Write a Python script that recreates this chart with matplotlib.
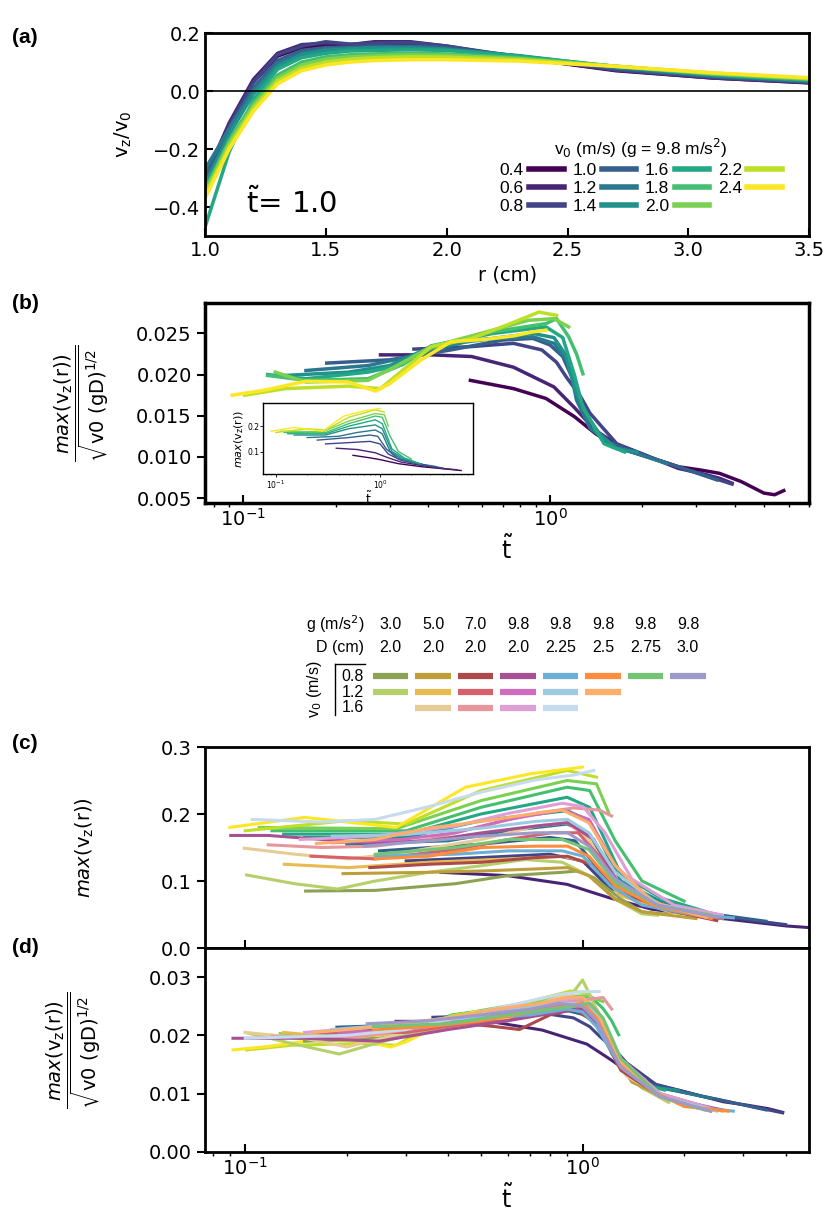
import numpy as np
import matplotlib
matplotlib.use('Agg')
import matplotlib.pyplot as plt
from matplotlib.lines import Line2D
from matplotlib.ticker import FormatStrFormatter

plt.rcParams['font.family'] = ['DejaVu Sans']

# ---------------- DATA ----------------
# (a) v_z/v_0 vs r at t~ = 1.0, one curve per v0 (g = 9.8)
v0_a = [0.4, 0.6, 0.8, 1.0, 1.2, 1.4, 1.6, 1.8, 2.0, 2.2, 2.4]
r_cm = [1.0, 1.1, 1.2, 1.3, 1.4, 1.5, 1.6, 1.7, 1.85, 2.0, 2.3, 2.7, 3.1, 3.5]
vz_a = [
    [-0.29, -0.12, 0.03, 0.120, 0.150, 0.155, 0.150, 0.160, 0.165, 0.150, 0.115, 0.070, 0.045, 0.028],
    [-0.30, -0.11, 0.04, 0.130, 0.160, 0.165, 0.160, 0.170, 0.170, 0.155, 0.115, 0.072, 0.045, 0.029],
    [-0.31, -0.12, 0.03, 0.125, 0.155, 0.170, 0.162, 0.165, 0.168, 0.155, 0.118, 0.073, 0.047, 0.030],
    [-0.29, -0.13, 0.01, 0.105, 0.140, 0.150, 0.150, 0.155, 0.155, 0.150, 0.120, 0.078, 0.050, 0.032],
    [-0.27, -0.13, 0.00, 0.095, 0.130, 0.145, 0.148, 0.150, 0.152, 0.145, 0.120, 0.080, 0.052, 0.034],
    [-0.32, -0.15, -0.01, 0.085, 0.125, 0.140, 0.145, 0.148, 0.148, 0.143, 0.122, 0.083, 0.054, 0.036],
    [-0.47, -0.21, -0.03, 0.075, 0.115, 0.130, 0.138, 0.140, 0.142, 0.140, 0.120, 0.085, 0.056, 0.038],
    [-0.34, -0.17, -0.04, 0.055, 0.100, 0.118, 0.125, 0.128, 0.130, 0.128, 0.115, 0.085, 0.058, 0.040],
    [-0.35, -0.18, -0.05, 0.045, 0.090, 0.110, 0.118, 0.122, 0.125, 0.123, 0.112, 0.085, 0.060, 0.042],
    [-0.36, -0.19, -0.06, 0.035, 0.080, 0.100, 0.110, 0.115, 0.118, 0.117, 0.108, 0.086, 0.062, 0.044],
    [-0.37, -0.20, -0.07, 0.025, 0.070, 0.090, 0.100, 0.105, 0.108, 0.108, 0.103, 0.085, 0.063, 0.046],
]

# (b) normalised max(v_z) vs t~
b_t = [
    [0.55, 0.76, 0.97, 1.2, 1.41, 1.65, 1.92, 2.3, 2.62, 3.1, 3.57, 4.2, 4.98, 5.4, 5.78],
    [0.28, 0.41, 0.555, 0.76, 1.03, 1.2, 1.41, 1.65, 1.92, 2.62, 3.1, 3.57, 3.92],
    [0.36, 0.55, 0.76, 0.94, 1.05, 1.13, 1.25, 1.35, 1.65, 2.25, 3.05, 3.92],
    [0.187, 0.30, 0.475, 0.70, 0.88, 1.0, 1.1, 1.2, 1.28, 1.5, 1.92, 2.62, 3.5],
    [0.16, 0.255, 0.35, 0.555, 0.88, 1.03, 1.15, 1.22, 1.35, 1.6, 1.92, 2.4],
    [0.137, 0.22, 0.30, 0.41, 0.65, 0.88, 1.03, 1.12, 1.22, 1.41, 1.65, 1.92],
    [0.12, 0.16, 0.255, 0.33, 0.41, 0.65, 0.97, 1.1, 1.2, 1.28, 1.5, 1.75],
    [0.12, 0.16, 0.255, 0.32, 0.41, 0.65, 0.97, 1.05, 1.15, 1.22, 1.28],
    [0.127, 0.16, 0.255, 0.31, 0.41, 0.65, 0.85, 1.03, 1.15],
    [0.101, 0.137, 0.22, 0.28, 0.33, 0.41, 0.555, 0.72, 0.92, 1.05],
    [0.092, 0.117, 0.16, 0.22, 0.27, 0.30, 0.38, 0.475, 0.62, 0.76, 0.88, 0.97],
]
b_y = [
    [0.0193, 0.0183, 0.0171, 0.0149, 0.0128, 0.0112, 0.0104, 0.0095, 0.0088, 0.0084, 0.0080, 0.0070, 0.0056, 0.0054, 0.0059],
    [0.0224, 0.0224, 0.0222, 0.0209, 0.0185, 0.0160, 0.0132, 0.0115, 0.0106, 0.0086, 0.0080, 0.0074, 0.0068],
    [0.0231, 0.0234, 0.0238, 0.0230, 0.0215, 0.0197, 0.0175, 0.0153, 0.0116, 0.0096, 0.0080, 0.0067],
    [0.0214, 0.0218, 0.0230, 0.0242, 0.0244, 0.0236, 0.0222, 0.0190, 0.0157, 0.0120, 0.0104, 0.0088, 0.0072],
    [0.0205, 0.0211, 0.0222, 0.0242, 0.0246, 0.0238, 0.0215, 0.0169, 0.0135, 0.0112, 0.0104, 0.0092],
    [0.0199, 0.0203, 0.0211, 0.0234, 0.0244, 0.0250, 0.0245, 0.0225, 0.0177, 0.0132, 0.0110, 0.0106],
    [0.0200, 0.0195, 0.0203, 0.0212, 0.0235, 0.0250, 0.0258, 0.0245, 0.0200, 0.0160, 0.0116, 0.0106],
    [0.0199, 0.0193, 0.0195, 0.0210, 0.0232, 0.0252, 0.0262, 0.0268, 0.0246, 0.0225, 0.0201],
    [0.0203, 0.0191, 0.0193, 0.0209, 0.0234, 0.0254, 0.0266, 0.0268, 0.0258],
    [0.0175, 0.0183, 0.0186, 0.0183, 0.0205, 0.0234, 0.0244, 0.0260, 0.0276, 0.0272],
    [0.0175, 0.0181, 0.0192, 0.0191, 0.0180, 0.0189, 0.0218, 0.0240, 0.0243, 0.0247, 0.0252, 0.0254],
]

# inset of (b): max(v_z(r)) vs t~
in_t = [
    [0.55, 0.8, 1.0, 1.5, 2.5, 4.0, 6.0],
    [0.38, 0.6, 0.9, 1.2, 1.6, 2.5, 4.0, 5.5],
    [0.3, 0.5, 0.8, 1.0, 1.2, 1.6, 2.5, 4.0],
    [0.25, 0.5, 0.8, 0.95, 1.15, 1.5, 2.5, 3.5],
    [0.2, 0.4, 0.6, 0.9, 1.05, 1.25, 1.6, 2.5],
    [0.15, 0.3, 0.5, 0.9, 1.05, 1.3, 1.7, 2.5],
    [0.13, 0.3, 0.5, 0.9, 1.05, 1.3, 1.7, 2.3],
    [0.12, 0.3, 0.5, 0.9, 1.05, 1.25, 1.5, 2.0],
    [0.11, 0.28, 0.5, 0.9, 1.1, 1.2],
    [0.1, 0.2, 0.3, 0.5, 0.9, 1.1],
    [0.09, 0.15, 0.28, 0.45, 0.7, 1.0],
]
in_y = [
    [0.085, 0.075, 0.068, 0.052, 0.040, 0.032, 0.025],
    [0.113, 0.108, 0.095, 0.075, 0.058, 0.045, 0.033, 0.028],
    [0.130, 0.135, 0.140, 0.130, 0.090, 0.065, 0.048, 0.035],
    [0.145, 0.155, 0.165, 0.160, 0.110, 0.070, 0.050, 0.040],
    [0.155, 0.160, 0.175, 0.185, 0.170, 0.100, 0.070, 0.050],
    [0.165, 0.165, 0.190, 0.205, 0.190, 0.100, 0.070, 0.050],
    [0.170, 0.170, 0.200, 0.225, 0.210, 0.110, 0.075, 0.055],
    [0.175, 0.175, 0.210, 0.240, 0.235, 0.160, 0.100, 0.070],
    [0.180, 0.178, 0.220, 0.250, 0.245, 0.200],
    [0.175, 0.190, 0.185, 0.235, 0.265, 0.255],
    [0.180, 0.195, 0.180, 0.240, 0.260, 0.270],
]

# table legend for (c)/(d)
tab_g = [3.0, 5.0, 7.0, 9.8, 9.8, 9.8, 9.8, 9.8]
tab_D = [2.0, 2.0, 2.0, 2.0, 2.25, 2.5, 2.75, 3.0]
tab_v0 = [0.8, 1.2, 1.6]
tab_colors = [
    ['#8ca252', '#b5cf6b', None],
    ['#bd9e39', '#e7ba52', '#e7cb94'],
    ['#ad494a', '#d6616b', '#e7969c'],
    ['#a55194', '#ce6dbd', '#de9ed6'],
    ['#6baed6', '#9ecae1', '#c6dbef'],
    ['#fd8d3c', '#fdae6b', None],
    ['#74c476', None, None],
    ['#9e9ac8', None, None],
]

# (c) max(v_z(r)) vs t~, one curve per table entry (column by column)
c_t = [
    [0.151, 0.243, 0.42, 0.60, 0.87, 0.97, 1.08, 1.30, 1.50, 1.81],
    [0.101, 0.140, 0.188, 0.243, 0.35, 0.504, 0.675, 0.871, 1.044, 1.25, 1.50, 1.67],
    [0.195, 0.35, 0.504, 0.726, 0.903, 1.044, 1.25, 1.50, 2.17],
    [0.1305, 0.202, 0.35, 0.604, 0.871, 1.044, 1.30, 1.81, 2.60],
    [0.0993, 0.140, 0.202, 0.291, 0.504, 0.726, 0.903, 1.044, 1.25, 1.81, 2.60],
    [0.234, 0.35, 0.504, 0.726, 0.903, 1.08, 1.30, 1.81, 2.50],
    [0.1567, 0.243, 0.42, 0.604, 0.809, 0.971, 1.12, 1.35, 1.81, 2.60],
    [0.117, 0.169, 0.243, 0.35, 0.504, 0.726, 0.94, 1.12, 1.22],
    [0.0906, 0.117, 0.169, 0.243, 0.35, 0.504, 0.726, 0.903, 1.08, 1.30, 1.81, 2.60],
    [0.1813, 0.291, 0.42, 0.604, 0.871, 1.044, 1.25, 1.62, 2.33],
    [0.1456, 0.243, 0.42, 0.604, 0.871, 1.003, 1.166, 1.40, 1.87, 2.60],
    [0.243, 0.42, 0.604, 0.871, 1.003, 1.21, 1.50, 2.17, 2.80],
    [0.1813, 0.291, 0.504, 0.726, 0.903, 1.044, 1.25, 1.67, 2.41],
    [0.1048, 0.169, 0.243, 0.35, 0.504, 0.726, 0.94, 1.08],
    [0.243, 0.35, 0.504, 0.726, 0.903, 1.044, 1.25, 1.62, 2.41],
    [0.1625, 0.243, 0.35, 0.504, 0.726, 0.871, 1.044, 1.25, 1.62, 2.33],
    [0.243, 0.42, 0.604, 0.871, 1.044, 1.25, 1.67, 2.41],
    [0.2256, 0.35, 0.504, 0.726, 0.903, 1.044, 1.25, 1.67, 2.50],
]
c_y = [
    [0.085, 0.086, 0.096, 0.108, 0.113, 0.115, 0.105, 0.073, 0.054, 0.050],
    [0.109, 0.096, 0.088, 0.100, 0.113, 0.123, 0.132, 0.128, 0.108, 0.073, 0.051, 0.049],
    [0.111, 0.113, 0.115, 0.118, 0.120, 0.108, 0.073, 0.054, 0.044],
    [0.125, 0.120, 0.128, 0.133, 0.137, 0.128, 0.078, 0.054, 0.044],
    [0.149, 0.140, 0.133, 0.142, 0.162, 0.182, 0.187, 0.162, 0.098, 0.059, 0.046],
    [0.120, 0.125, 0.128, 0.135, 0.137, 0.123, 0.083, 0.056, 0.041],
    [0.137, 0.133, 0.147, 0.162, 0.172, 0.172, 0.137, 0.083, 0.059, 0.044],
    [0.154, 0.150, 0.152, 0.162, 0.182, 0.201, 0.209, 0.206, 0.197],
    [0.168, 0.168, 0.162, 0.157, 0.160, 0.172, 0.182, 0.187, 0.162, 0.089, 0.056, 0.046],
    [0.157, 0.162, 0.172, 0.192, 0.206, 0.192, 0.123, 0.068, 0.048],
    [0.162, 0.167, 0.182, 0.201, 0.216, 0.211, 0.172, 0.103, 0.064, 0.049],
    [0.137, 0.140, 0.145, 0.145, 0.137, 0.093, 0.064, 0.049, 0.045],
    [0.167, 0.169, 0.179, 0.189, 0.192, 0.172, 0.113, 0.066, 0.048],
    [0.192, 0.188, 0.192, 0.211, 0.233, 0.251, 0.258, 0.265],
    [0.133, 0.137, 0.150, 0.152, 0.152, 0.137, 0.093, 0.064, 0.044],
    [0.156, 0.162, 0.179, 0.189, 0.201, 0.206, 0.187, 0.123, 0.068, 0.046],
    [0.140, 0.150, 0.162, 0.162, 0.147, 0.098, 0.064, 0.049],
    [0.152, 0.160, 0.167, 0.172, 0.172, 0.152, 0.103, 0.064, 0.046],
]

# (d) normalised max(v_z) vs t~, same order as (c)
d_t = [
    [0.15, 0.25, 0.4, 0.6, 0.85, 1.0, 1.1, 1.3, 1.5, 1.8],
    [0.1, 0.14, 0.19, 0.24, 0.35, 0.5, 0.7, 0.9, 1.0, 1.05, 1.15, 1.3, 1.5, 1.8],
    [0.2, 0.35, 0.5, 0.7, 0.9, 1.05, 1.2, 1.4, 1.8, 2.2],
    [0.13, 0.2, 0.35, 0.55, 0.8, 0.95, 1.1, 1.3, 1.7, 2.6],
    [0.1, 0.15, 0.2, 0.3, 0.5, 0.75, 0.9, 1.0, 1.15, 1.35, 1.8, 2.6],
    [0.24, 0.35, 0.45, 0.55, 0.65, 0.8, 0.95, 1.1, 1.3, 1.7, 2.4],
    [0.16, 0.3, 0.45, 0.6, 0.8, 0.95, 1.1, 1.3, 1.7, 2.5],
    [0.12, 0.2, 0.35, 0.55, 0.8, 1.0, 1.15, 1.22],
    [0.092, 0.15, 0.25, 0.4, 0.6, 0.85, 1.0, 1.1, 1.3, 1.7, 2.6],
    [0.19, 0.3, 0.45, 0.65, 0.85, 1.0, 1.1, 1.3, 1.7, 2.4],
    [0.15, 0.25, 0.4, 0.6, 0.85, 1.0, 1.1, 1.3, 1.7, 2.5],
    [0.24, 0.35, 0.5, 0.7, 0.9, 1.0, 1.1, 1.3, 1.7, 2.3, 2.8],
    [0.18, 0.3, 0.45, 0.65, 0.85, 1.0, 1.1, 1.3, 1.7, 2.5],
    [0.1, 0.2, 0.3, 0.45, 0.65, 0.85, 1.0, 1.12],
    [0.24, 0.35, 0.5, 0.7, 0.9, 1.0, 1.1, 1.3, 1.6, 2.0, 2.7],
    [0.16, 0.25, 0.4, 0.55, 0.75, 0.9, 1.0, 1.1, 1.3, 1.7, 2.4],
    [0.24, 0.4, 0.6, 0.8, 0.95, 1.05, 1.15, 1.3, 1.7, 2.3],
    [0.23, 0.35, 0.5, 0.7, 0.85, 1.0, 1.1, 1.3, 1.7, 2.4],
]
d_y = [
    [0.0190, 0.0195, 0.0215, 0.0235, 0.0250, 0.0255, 0.0230, 0.0150, 0.0110, 0.0090],
    [0.0205, 0.0185, 0.0168, 0.0185, 0.0210, 0.0225, 0.0250, 0.0260, 0.0295, 0.0270, 0.0220, 0.0150, 0.0110, 0.0085],
    [0.0205, 0.0210, 0.0225, 0.0235, 0.0250, 0.0245, 0.0180, 0.0120, 0.0090, 0.0075],
    [0.0205, 0.0195, 0.0210, 0.0225, 0.0240, 0.0255, 0.0220, 0.0140, 0.0095, 0.0070],
    [0.0205, 0.0195, 0.0180, 0.0205, 0.0235, 0.0255, 0.0270, 0.0260, 0.0200, 0.0130, 0.0090, 0.0070],
    [0.0215, 0.0215, 0.0220, 0.0215, 0.0210, 0.0235, 0.0245, 0.0220, 0.0140, 0.0095, 0.0070],
    [0.0205, 0.0205, 0.0220, 0.0225, 0.0245, 0.0250, 0.0230, 0.0150, 0.0100, 0.0072],
    [0.0198, 0.0195, 0.0215, 0.0235, 0.0255, 0.0260, 0.0265, 0.0245],
    [0.0195, 0.0195, 0.0190, 0.0210, 0.0225, 0.0240, 0.0245, 0.0220, 0.0145, 0.0095, 0.0072],
    [0.0205, 0.0210, 0.0225, 0.0240, 0.0250, 0.0255, 0.0235, 0.0150, 0.0095, 0.0072],
    [0.0205, 0.0215, 0.0230, 0.0245, 0.0260, 0.0265, 0.0240, 0.0160, 0.0100, 0.0072],
    [0.0215, 0.0225, 0.0230, 0.0235, 0.0245, 0.0240, 0.0215, 0.0145, 0.0095, 0.0075, 0.0070],
    [0.0210, 0.0220, 0.0230, 0.0245, 0.0255, 0.0255, 0.0235, 0.0150, 0.0095, 0.0070],
    [0.0195, 0.0200, 0.0210, 0.0235, 0.0255, 0.0270, 0.0275, 0.0275],
    [0.0210, 0.0215, 0.0225, 0.0240, 0.0250, 0.0255, 0.0230, 0.0150, 0.0105, 0.0078, 0.0070],
    [0.0205, 0.0215, 0.0230, 0.0245, 0.0255, 0.0265, 0.0265, 0.0245, 0.0155, 0.0095, 0.0070],
    [0.0215, 0.0220, 0.0235, 0.0245, 0.0250, 0.0255, 0.0230, 0.0160, 0.0095, 0.0072],
    [0.0220, 0.0225, 0.0235, 0.0245, 0.0255, 0.0250, 0.0225, 0.0145, 0.0095, 0.0070],
]

# ---------------- FIGURE ----------------
vir = plt.cm.viridis(np.linspace(0, 1, len(v0_a)))
tab_flat = [c for col in tab_colors for c in col if c is not None]
sans = 'Liberation Sans'
frac_label = r'$\dfrac{max(\mathrm{v_z(r)})}{\sqrt{\mathrm{v0\ (gD)}^{1/2}}}$'

fig = plt.figure(figsize=(8.3, 12.19), dpi=100)
L, W = 0.247, 0.728
ax_a = fig.add_axes([L, 0.8064, W, 0.1665])
ax_b = fig.add_axes([L, 0.5874, W, 0.1640])
ax_c = fig.add_axes([L, 0.2223, W, 0.1649])
ax_d = fig.add_axes([L, 0.0550, W, 0.1674], sharex=ax_c)
ax_in = fig.add_axes([0.3172, 0.6109, 0.2527, 0.0582])


def style(ax, lw=2.0, size=14, ydir='in'):
    for s in ax.spines.values():
        s.set_linewidth(lw)
    ax.tick_params(which='major', direction='in', length=6, width=1.5, labelsize=size)
    ax.tick_params(which='minor', direction='in', length=3, width=1)
    ax.tick_params(axis='y', which='major', direction=ydir)


# (a)
for i, ys in enumerate(vz_a):
    ax_a.plot(r_cm, ys, color=vir[i], lw=2.5)
ax_a.axhline(0, color='k', lw=1.2)
ax_a.set_xlim(1.0, 3.5)
ax_a.set_ylim(-0.5, 0.2)
ax_a.set_yticks([-0.4, -0.2, 0.0, 0.2])
ax_a.set_xlabel('r (cm)', fontsize=14)
ax_a.set_ylabel(r'v$_\mathrm{z}$/v$_0$', fontsize=14)
ax_a.yaxis.set_label_coords(-0.118, 0.5)
ax_a.text(1.17, -0.385, r'$\tilde{\mathrm{t}}$= 1.0', fontsize=21, va='center')
style(ax_a)
handles = [Line2D([], [], color=vir[i], lw=4) for i in range(len(v0_a))]
leg = ax_a.legend(handles, [f'{v:.1f}' for v in v0_a], ncol=4, markerfirst=False,
                  frameon=False, title=r'v$_0$ (m/s) (g = 9.8 m/s$^2$)',
                  loc='lower right', bbox_to_anchor=(0.975, 0.05),
                  prop={'family': sans, 'size': 12.5}, handlelength=2.0,
                  handletextpad=0.3, columnspacing=0.5, labelspacing=0.15,
                  borderpad=0.2)
leg.get_title().set_fontfamily(sans)
leg.get_title().set_fontsize(12.5)

# (b)
for i in range(len(b_t)):
    ax_b.plot(b_t[i], b_y[i], color=vir[i], lw=2.5)
ax_b.set_xscale('log')
ax_b.set_xlim(0.075, 7.0)
ax_b.set_ylim(0.0044, 0.0287)
ax_b.set_yticks([0.005, 0.010, 0.015, 0.020, 0.025])
ax_b.yaxis.set_major_formatter(FormatStrFormatter('%.3f'))
ax_b.set_xlabel(r'$\tilde{\mathrm{t}}$', fontsize=17)
ax_b.set_ylabel(frac_label, fontsize=14)
ax_b.yaxis.set_label_coords(-0.158, 0.5)
style(ax_b, lw=2.5, ydir='out')
ax_b.tick_params(axis='x', which='minor', direction='out')

# inset
for i in range(len(in_t)):
    ax_in.plot(in_t[i], in_y[i], color=vir[i], lw=1.0)
ax_in.set_xscale('log')
ax_in.set_xlim(0.0757, 7.8)
ax_in.set_ylim(0.01, 0.29)
ax_in.set_yticks([0.1, 0.2])
ax_in.set_xlabel(r'$\tilde{\mathrm{t}}$', fontsize=9, labelpad=0)
ax_in.set_ylabel(r'$max(\mathrm{v_z(r)})$', fontsize=8, labelpad=1)
for s in ax_in.spines.values():
    s.set_linewidth(1.0)
ax_in.tick_params(which='major', direction='out', length=2, width=0.6, labelsize=5.5, pad=1)
ax_in.tick_params(which='minor', direction='out', length=1, width=0.4)

# (c) and (d)
for i in range(1, len(in_t)):
    ax_c.plot(in_t[i], in_y[i], color=vir[i], lw=2.2)
for k, c in enumerate(tab_flat):
    ax_c.plot(c_t[k], c_y[k], color=c, lw=2.2)
for i in range(1, len(b_t)):
    ax_d.plot(b_t[i], b_y[i], color=vir[i], lw=2.2)
for k, c in enumerate(tab_flat):
    ax_d.plot(d_t[k], d_y[k], color=c, lw=2.2)

ax_c.set_xscale('log')
ax_c.set_xlim(0.076, 4.7)
ax_c.set_ylim(0, 0.3)
ax_c.set_yticks([0.0, 0.1, 0.2, 0.3])
ax_c.yaxis.set_major_formatter(FormatStrFormatter('%.1f'))
ax_c.set_ylabel(r'$max(\mathrm{v_z(r)})$', fontsize=14)
ax_c.yaxis.set_label_coords(-0.18, 0.5)
style(ax_c, ydir='out')
ax_c.tick_params(axis='x', which='minor', direction='out')
ax_c.tick_params(labelbottom=False)

ax_d.set_ylim(0, 0.035)
ax_d.set_yticks([0.0, 0.01, 0.02, 0.03])
ax_d.yaxis.set_major_formatter(FormatStrFormatter('%.2f'))
ax_d.set_xlabel(r'$\tilde{\mathrm{t}}$', fontsize=17)
ax_d.set_ylabel(frac_label, fontsize=14)
ax_d.yaxis.set_label_coords(-0.17, 0.5)
style(ax_d, ydir='out')
ax_d.tick_params(axis='x', which='minor', direction='out')

# panel letters
for y, s in [(0.969, '(a)'), (0.751, '(b)'), (0.390, '(c)'), (0.223, '(d)')]:
    fig.text(0.015, y, s, fontsize=15, fontweight='bold', family=sans, va='center')

# table legend for (c)/(d)
fs_t = 11.5
x_lab, x0, dx = 0.4386, 0.4705, 0.0512
y_g, y_D = 0.4881, 0.4692
y_rows = [0.4454, 0.4323, 0.4192]
fig.text(x_lab, y_g, r'g (m/s$^2$)', ha='right', va='center', fontsize=fs_t, family=sans)
fig.text(x_lab, y_D, 'D (cm)', ha='right', va='center', fontsize=fs_t, family=sans)
for k in range(len(tab_g)):
    x = x0 + k * dx
    fig.text(x, y_g, f'{tab_g[k]:.1f}', ha='center', va='center', fontsize=fs_t, family=sans)
    fig.text(x, y_D, str(tab_D[k]), ha='center', va='center', fontsize=fs_t, family=sans)
    for j, c in enumerate(tab_colors[k]):
        if c is None:
            continue
        fig.add_artist(Line2D([x - 0.0211, x + 0.0211], [y_rows[j], y_rows[j]], color=c,
                              lw=4.5, solid_capstyle='butt', transform=fig.transFigure))
for j, v in enumerate(tab_v0):
    fig.text(x_lab, y_rows[j], f'{v:.1f}', ha='right', va='center', fontsize=fs_t, family=sans)
fig.add_artist(Line2D([0.4036, 0.4036], [0.4131, 0.4553], color='k', lw=1.0, transform=fig.transFigure))
fig.add_artist(Line2D([0.4036, 0.4400], [0.4553, 0.4553], color='k', lw=1.0, transform=fig.transFigure))
fig.text(0.3795, 0.4348, r'v$_0$ (m/s)', rotation=90, ha='center', va='center',
         fontsize=fs_t, family=sans)

fig.savefig('out.png', dpi=100)
